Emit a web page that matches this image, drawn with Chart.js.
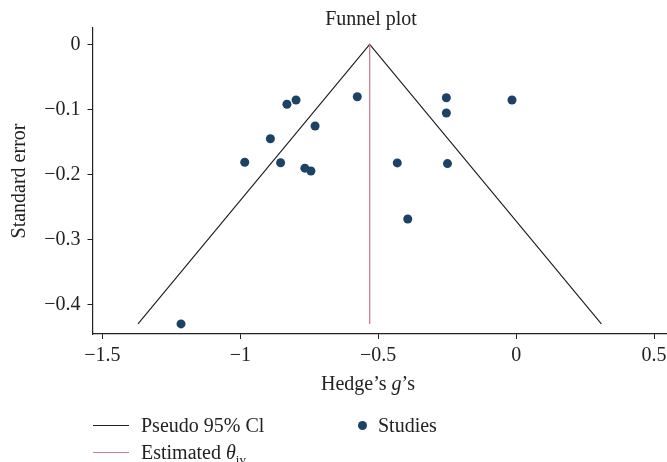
<!DOCTYPE html>
<html>
<head>
<meta charset="utf-8">
<script src="https://cdn.jsdelivr.net/npm/chart.js@4/dist/chart.umd.min.js"></script>
<style>
  html, body { margin: 0; padding: 0; background: #fff; overflow: hidden; }
  #wrap { position: relative; width: 667px; height: 462px; font-family: "Liberation Serif", "DejaVu Serif", serif; color: #222; overflow: hidden; }
  #c { position: absolute; left: 0; top: 0; }
  .txt { position: absolute; white-space: nowrap; font-size: 20px; line-height: 24px; }
  .swatch { position: absolute; height: 1px; width: 36px; }
  .dot { position: absolute; width: 9px; height: 9px; border-radius: 50%; background: #1c4268; }
  sub { font-size: 13px; line-height: 0; font-style: normal; }
</style>
</head>
<body>
<div id="wrap">
  <canvas id="c" width="667" height="462"></canvas>
  <div class="txt" style="left:271px;width:200px;text-align:center;top:6px;">Funnel plot</div>
  <div class="txt" style="left:268px;width:200px;text-align:center;top:371px;">Hedge’s <i>g</i>’s</div>

  <div class="swatch" style="left:93px;top:425px;background:#222;"></div>
  <div class="txt" style="left:141px;top:413px;">Pseudo 95% Cl</div>
  <div class="dot" style="left:358px;top:421px;"></div>
  <div class="txt" style="left:378px;top:413px;">Studies</div>
  <div class="swatch" style="left:93px;top:452px;background:#cf7a98;"></div>
  <div class="txt" style="left:141px;top:440px;">Estimated <i>θ</i><sub>iv</sub></div>
</div>
<script>
// Effect sizes (Hedge's g) and standard errors of the individual studies
const studyG  = [-0.831, -0.798, -0.576, -0.253, -0.015, -0.253, -0.729, -0.891,
                 -0.984, -0.854, -0.766, -0.744, -0.431, -0.249, -0.393, -1.215];
const studySE = [-0.092, -0.0855, -0.0804, -0.082, -0.0855, -0.1054, -0.1254, -0.1449,
                 -0.181, -0.1817, -0.190, -0.1944, -0.182, -0.183, -0.268, -0.429];

// Pseudo 95% confidence limits (funnel outline)
const funnelG  = [-1.371, -0.531, 0.309];
const funnelSE = [-0.429, 0, -0.429];

// Pooled inverse-variance estimate
const thetaG  = [-0.531, -0.531];
const thetaSE = [0, -0.429];

// Axis ticks
const xTicks = [-1.5, -1, -0.5, 0, 0.5];
const yTicks = [0, -0.1, -0.2, -0.3, -0.4];

const pts = (xs, ys) => xs.map((x, i) => ({ x: x, y: ys[i] }));
const fmt = v => (v < 0 ? '\u2212' + String(Math.abs(v)) : String(v));
const ink = '#222';
const tickFont = { family: '"Liberation Serif", "DejaVu Serif", serif', size: 20 };

// Let the plot area run all the way to the right edge of the canvas
const fullWidthArea = {
  id: 'fullWidthArea',
  afterLayout(chart) {
    const area = chart.chartArea;
    const xs = chart.scales.x;
    area.right = chart.width;
    area.width = area.right - area.left;
    xs.right = chart.width;
    xs.width = xs.right - xs.left;
    xs.configure();
  }
};

new Chart(document.getElementById('c'), {
  type: 'scatter',
  plugins: [fullWidthArea],
  data: {
    datasets: [
      {
        label: 'Studies',
        data: pts(studyG, studySE),
        pointRadius: 4.5,
        pointHoverRadius: 4.5,
        pointBackgroundColor: '#1c4268',
        pointBorderWidth: 0,
        order: 0
      },
      {
        label: 'Pseudo 95% Cl',
        data: pts(funnelG, funnelSE),
        showLine: true,
        borderColor: '#1a1a1a',
        borderWidth: 1.1,
        pointRadius: 0,
        order: 2
      },
      {
        label: 'Estimated θiv',
        data: pts(thetaG, thetaSE),
        showLine: true,
        borderColor: '#cf7a98',
        borderWidth: 1.3,
        pointRadius: 0,
        order: 1
      }
    ]
  },
  options: {
    responsive: false,
    devicePixelRatio: 1,
    animation: false,
    events: [],
    layout: { autoPadding: false, padding: { top: 28, right: 0, bottom: 0, left: 0 } },
    plugins: { legend: { display: false }, tooltip: { enabled: false }, title: { display: false } },
    scales: {
      x: {
        type: 'linear',
        min: -1.536,
        max: 0.547,
        afterBuildTicks: s => { s.ticks = xTicks.map(v => ({ value: v })); },
        afterFit: s => { s.height = 128; },
        ticks: { callback: v => fmt(v), color: ink, font: tickFont, padding: 5, maxRotation: 0, autoSkip: false },
        grid: { drawOnChartArea: false, tickLength: 5, color: ink, lineWidth: 1 },
        border: { display: true, color: ink, width: 1.2 }
      },
      y: {
        type: 'linear',
        min: -0.4445,
        max: 0.025,
        afterBuildTicks: s => { s.ticks = yTicks.map(v => ({ value: v })); },
        afterFit: s => { s.width = 92.5; },
        ticks: { callback: v => fmt(v), color: ink, font: tickFont, padding: 7, autoSkip: false },
        grid: { drawOnChartArea: false, tickLength: 5, color: ink, lineWidth: 1 },
        border: { display: true, color: ink, width: 1.2 },
        title: {
          display: true,
          text: 'Standard error',
          color: ink,
          font: tickFont,
          padding: { top: 8, bottom: 0 }
        }
      }
    }
  }
});
</script>
</body>
</html>
